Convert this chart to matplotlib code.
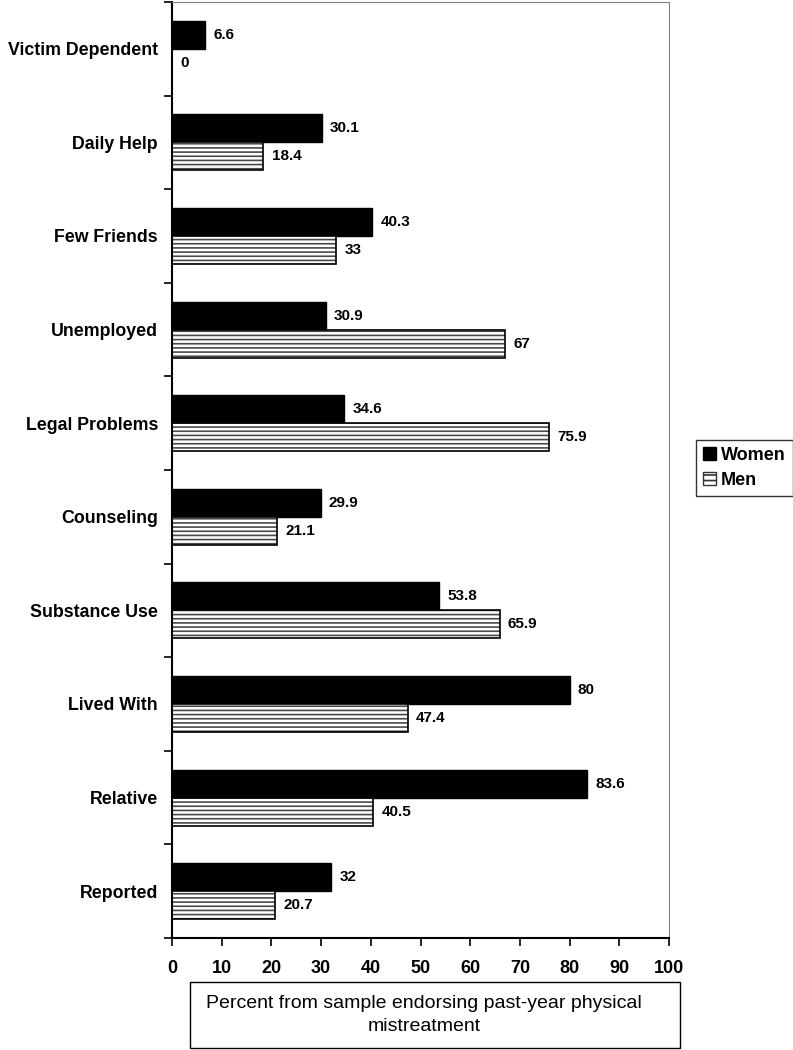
import matplotlib.pyplot as plt
from matplotlib.patches import Rectangle, Patch
import numpy as np

plt.rcParams['font.family'] = ['Liberation Sans', 'DejaVu Sans']
plt.rcParams['hatch.linewidth'] = 1.2

categories = ['Victim Dependent', 'Daily Help', 'Few Friends', 'Unemployed', 'Legal Problems',
              'Counseling', 'Substance Use', 'Lived With', 'Relative', 'Reported']
women = [6.6, 30.1, 40.3, 30.9, 34.6, 29.9, 53.8, 80, 83.6, 32]
men = [0, 18.4, 33, 67, 75.9, 21.1, 65.9, 47.4, 40.5, 20.7]
xticks = list(range(0, 101, 10))

fig = plt.figure(figsize=(7.93, 10.5), dpi=100)
ax = fig.add_axes([172 / 793, 1 - 938 / 1050, (669 - 172) / 793, (938 - 2) / 1050])

y = np.arange(len(categories))
h = 0.3
wb = ax.barh(y - h / 2, women, height=h, color='black', edgecolor='black', linewidth=1)
mb = ax.barh(y + h / 2, men, height=h, color='white', edgecolor='#4a4a4a', hatch='----', linewidth=0)
ax.barh(y + h / 2, men, height=h, fill=False, edgecolor='black', linewidth=1.2)

ax.bar_label(wb, labels=[f'{v:g}' for v in women], padding=6, fontsize=11, fontweight='bold')
ax.bar_label(mb, labels=[f'{v:g}' for v in men], padding=6, fontsize=11, fontweight='bold')

ax.set_xlim(0, 100)
ax.set_ylim(len(categories) - 0.5, -0.5)
ax.set_xticks(xticks)
ax.set_xticklabels([str(t) for t in xticks], fontsize=13, fontweight='bold')
ax.tick_params(axis='x', direction='out', length=6, width=1.2, pad=10)

ax.set_yticks(y)
ax.set_yticklabels(categories, fontsize=12.8, fontweight='bold')
ax.tick_params(axis='y', which='major', length=0, pad=10)
ax.set_yticks(np.arange(-0.5, len(categories)), minor=True)
ax.tick_params(axis='y', which='minor', direction='out', length=6, width=1.2)

ax.spines['left'].set_linewidth(1.5)
ax.spines['bottom'].set_linewidth(1.5)
ax.spines['right'].set_color('#808080')
ax.spines['top'].set_color('#808080')

# xlabel box
fig.add_artist(Rectangle((190 / 793, 1 - 1048 / 1050), 490 / 793, 66 / 1050,
                         transform=fig.transFigure, fill=False, edgecolor='black', linewidth=1))
fig.text(424 / 793, 1 - 1015 / 1050, 'Percent from sample endorsing past-year physical\nmistreatment',
         ha='center', va='center', fontsize=14, linespacing=1.4)

handles = [Patch(facecolor='black', edgecolor='black'),
           Patch(facecolor='white', edgecolor='#333333', hatch='---')]
leg = fig.legend(handles, ['Women', 'Men'], loc='center', bbox_to_anchor=(744.5 / 793, 1 - 468 / 1050),
                 prop={'weight': 'bold', 'size': 13}, frameon=True, fancybox=False,
                 handlelength=0.7, handleheight=0.7, handletextpad=0.3, borderpad=0.4,
                 labelspacing=0.45, borderaxespad=0)
leg.get_frame().set_edgecolor('black')
leg.get_frame().set_linewidth(1)

fig.savefig('out.png', dpi=100)
